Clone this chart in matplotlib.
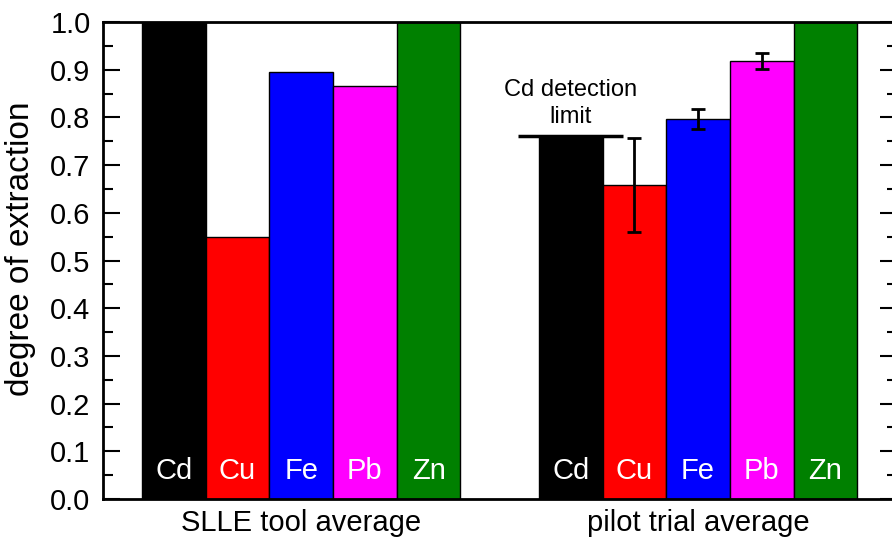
import numpy as np
import matplotlib
matplotlib.use("Agg")
import matplotlib.pyplot as plt

plt.rcParams['font.family'] = ['Liberation Sans', 'DejaVu Sans']

# data
metals = ["Cd", "Cu", "Fe", "Pb", "Zn"]
colors = ["#000000", "#ff0000", "#0000ff", "#ff00ff", "#008000"]
groups = ["SLLE tool average", "pilot trial average"]
slle_values = [1.0, 0.55, 0.895, 0.865, 1.0]
pilot_values = [0.76, 0.658, 0.796, 0.918, 1.0]
pilot_errors = [0, 0.098, 0.021, 0.016, 0]
cd_detection_limit = 0.76

fig = plt.figure(figsize=(8.92, 5.43), dpi=100)
ax = fig.add_axes([0.1155, 0.081, 0.890, 0.8785])

group_starts = [0.0, 6.23]
x1 = group_starts[0] + np.arange(len(metals))
x2 = group_starts[1] + np.arange(len(metals))

ax.bar(x1, slle_values, width=1.0, align='edge', color=colors,
       edgecolor='black', linewidth=1.0, zorder=2)
ax.bar(x2, pilot_values, width=1.0, align='edge', color=colors,
       edgecolor='black', linewidth=1.0, zorder=2)

# error bars for pilot trial (skip the ones with no error)
for xi, v, e in zip(x2, pilot_values, pilot_errors):
    if e > 0:
        ax.errorbar(xi + 0.5, v, yerr=e, fmt='none', ecolor='black',
                    elinewidth=2, capsize=5, capthick=2, zorder=3)

# element labels inside bars
for xs in (x1, x2):
    for xi, m in zip(xs, metals):
        ax.text(xi + 0.5, 0.059, m, color='white', ha='center', va='center',
                fontsize=21, zorder=4)

# Cd detection limit marker
ax.plot([x2[0] - 0.33, x2[0] + 1.32], [cd_detection_limit] * 2,
        color='black', linewidth=2.5, zorder=4, solid_capstyle='butt')
ax.text(x2[0] + 0.5, cd_detection_limit + 0.018, "Cd detection\nlimit",
        ha='center', va='bottom', fontsize=17, linespacing=1.3)

ax.set_xlim(-0.61, 11.85)
ax.set_ylim(0, 1.0)
ax.set_xticks([g + 2.5 for g in group_starts])
ax.set_xticklabels(groups, fontsize=21)
ax.tick_params(axis='x', length=0, pad=7)

ax.set_yticks(np.arange(0, 1.01, 0.1))
ax.set_yticks(np.arange(0.05, 1.0, 0.1), minor=True)
ax.set_yticklabels([f"{v:.1f}" for v in np.arange(0, 1.01, 0.1)], fontsize=21)
ax.tick_params(axis='y', which='both', direction='in', right=True, width=1.5)
ax.tick_params(axis='y', which='major', length=12, pad=9)
ax.tick_params(axis='y', which='minor', length=7)
ax.set_ylabel("degree of extraction", fontsize=24)
ax.yaxis.set_label_coords(-0.085, 0.525)

for s in ax.spines.values():
    s.set_linewidth(2)
    s.set_zorder(5)

fig.savefig("out.png", dpi=100)
